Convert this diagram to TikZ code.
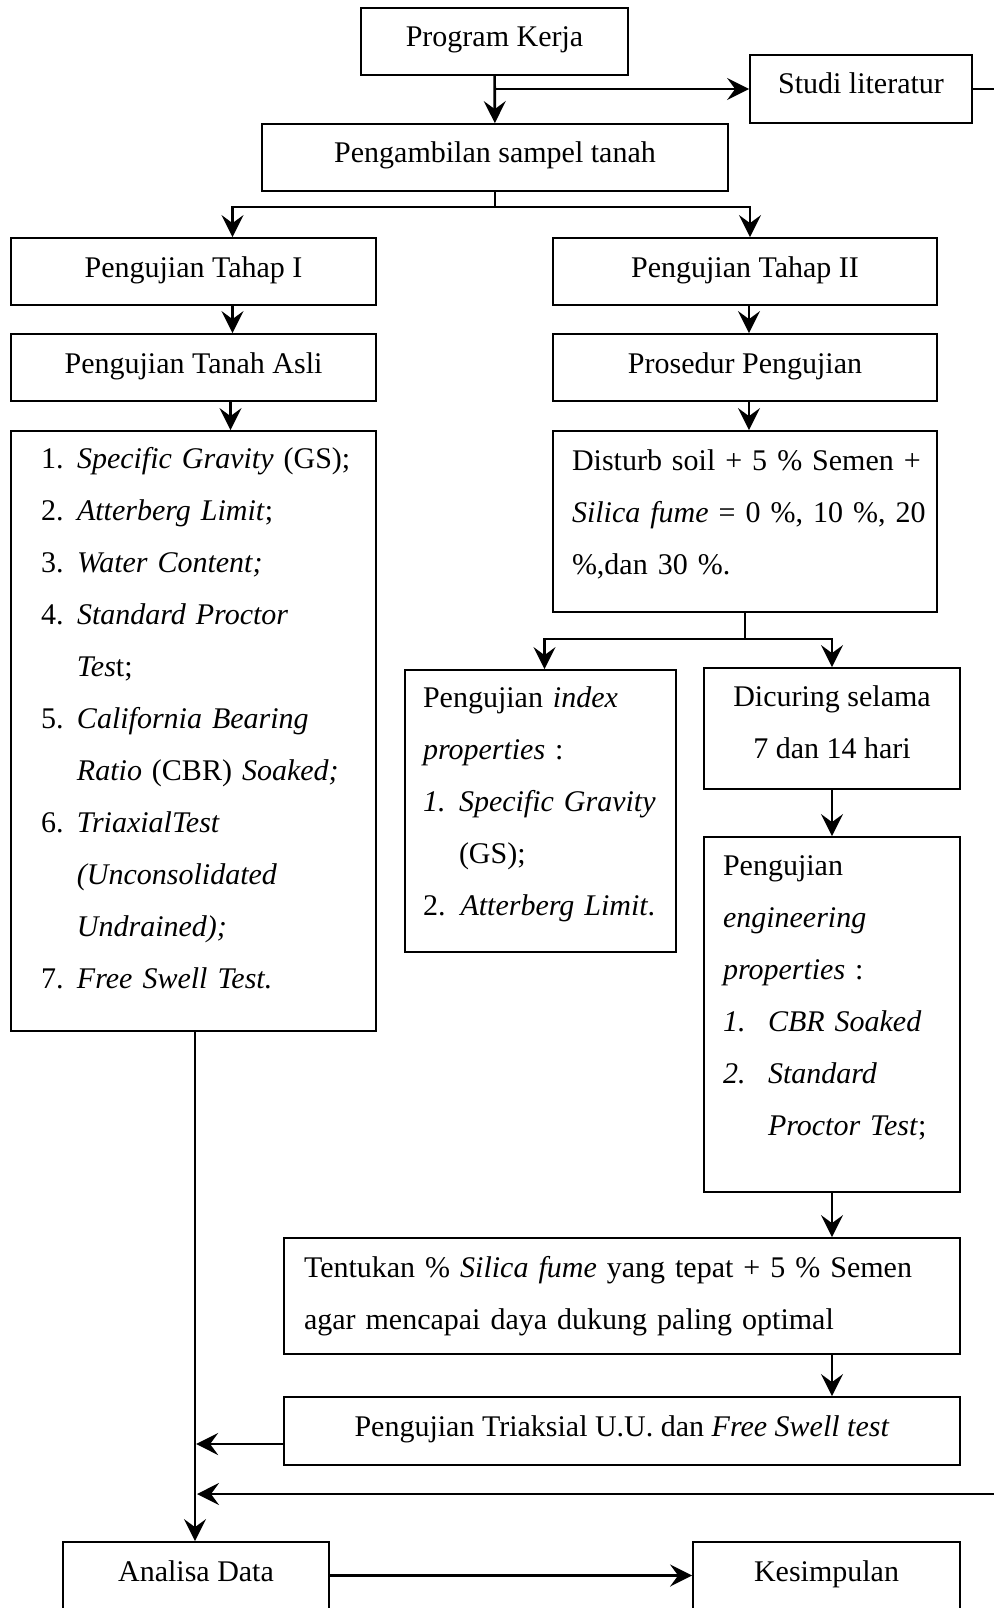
\documentclass[tikz,border=0pt]{standalone}
\usepackage{fontspec}
\setmainfont{Liberation Serif}
\usepackage{xcolor}
\definecolor{Col1}{RGB}{0,0,0}
\usepackage{tikz}
\usetikzlibrary{arrows.meta}
\tikzstyle{Box}=[draw=Col1,line width=1.8pt,inner sep=0pt,
    font=\fontsize{30}{52}\selectfont]
\tikzstyle{OneLine}=[Box,text height=21pt,text depth=10pt]
\tikzstyle{Line}=[draw=Col1,line width=2.6pt]
\tikzstyle{Edge}=[Line,-{Stealth[length=22pt,width=22pt,inset=8pt]}]
\newcommand{\Num}[2][36pt]{\makebox[#1][l]{#2}}
\newcommand{\Ind}[1][36pt]{\hspace*{#1}}
\newcommand{\Low}[1]{\rule[-#1]{0pt}{#1}}

\begin{document}
\begin{tikzpicture}[x=1pt,y=-1pt]
            \useasboundingbox(0,0)rectangle(993,1608);
            \node[OneLine,minimum width=267pt,minimum height=67pt](kerja)
                at(494.5,41.5){Program Kerja};
            \node[OneLine,text depth=12pt,minimum width=222pt,
                minimum height=68pt](studi)at(861,89){Studi literatur};
            \node[OneLine,minimum width=466pt,minimum height=67pt](sampel)
                at(495,157.5){Pengambilan sampel tanah};
            \node[OneLine,minimum width=365pt,minimum height=67pt](tahap1)
                at(193.5,271.5){Pengujian Tahap I};
            \node[OneLine,minimum width=384pt,minimum height=67pt](tahap2)
                at(745,271.5){Pengujian Tahap II};
            \node[OneLine,minimum width=365pt,minimum height=67pt](asli)
                at(193.5,367.5){Pengujian Tanah Asli};
            \node[OneLine,minimum width=384pt,minimum height=67pt](prosedur)
                at(745,367.5){Prosedur Pengujian};
            \node[Box,minimum width=365pt,minimum height=600pt,
                inner xsep=30pt,text width=305pt,align=left](uji)
                at(193.5,731){\mbox{\Num{1.}\textit{Specific Gravity} (GS);}\\
                \Num{2.}\textit{Atterberg Limit};\\
                \Num{3.}\textit{Water Content;}\\
                \Num{4.}\textit{Standard Proctor}\\
                \Ind\textit{Tes}t;\\
                \Num{5.}\textit{California Bearing}\\
                \Ind\textit{Ratio} (CBR) \textit{Soaked;}\\
                \Num{6.}\textit{TriaxialTest}\\
                \Ind\textit{(Unconsolidated}\\
                \Ind\textit{Undrained);}\\
                \Num{7.}\textit{Free Swell Test.}\Low{26pt}};
            \node[Box,minimum width=384pt,minimum height=181pt,
                inner xsep=19pt,text width=346pt,align=left](campuran)
                at(745,521.5){\mbox{Disturb soil + 5 \% Semen +}\\
                \mbox{\textit{Silica fume} = 0 \%, 10 \%, 20}\\
                \%,dan 30 \%.\Low{19pt}};
            \node[Box,minimum width=271pt,minimum height=282pt,
                inner xsep=18pt,text width=235pt,align=left](index)
                at(540.5,811){Pengujian \textit{index}\\
                \textit{properties} :\\
                \mbox{\Num{\textit{1.}}\textit{Specific Gravity}}\\
                \Ind(GS);\\
                2. \textit{Atterberg Limit}.\Low{20pt}};
            \node[Box,minimum width=256pt,minimum height=121pt,
                align=center](curing)
                at(832,728.5){Dicuring selama\\7 dan 14 hari\Low{13pt}};
            \node[Box,minimum width=256pt,minimum height=355pt,
                inner xsep=19pt,text width=218pt,align=left](engineering)
                at(832,1014.5){Pengujian\\
                \textit{engineering}\\
                \textit{properties} :\\
                \Num[45pt]{\textit{1.}}\textit{CBR Soaked}\\
                \Num[45pt]{\textit{2.}}\textit{Standard}\\
                \Ind[45pt]\textit{Proctor Test};\Low{37pt}};
            \node[Box,minimum width=676pt,minimum height=116pt,
                inner xsep=20pt,text width=636pt,align=left](tentukan)
                at(622,1296){\mbox{Tentukan \% \textit{Silica fume} yang tepat + 5 \% Semen}\\
                agar mencapai daya dukung paling optimal};
            \node[OneLine,minimum width=676pt,minimum height=68pt](triaksial)
                at(622,1431){Pengujian Triaksial U.U. dan \textit{Free Swell test}};
            \node[OneLine,minimum width=266pt,minimum height=67pt](analisa)
                at(196,1575.5){Analisa Data};
            \node[OneLine,minimum width=267pt,minimum height=67pt](kesimpulan)
                at(826.5,1575.5){Kesimpulan};
            \coordinate(balik)at(197,1494);
            %
            \draw[Edge](kerja)--(sampel);
            \draw[Edge](kerja|-studi)--(studi);
            \draw[Edge](studi.east)--++(60,0)|-(balik);
            \draw[Edge](sampel.south)--++(0,15)-|([xshift=39pt]tahap1.north);
            \draw[Edge](sampel.south)--++(0,15)-|([xshift=5pt]tahap2.north);
            \draw[Edge]([xshift=39pt]tahap1.south)--([xshift=39pt]asli.north);
            \draw[Edge]([xshift=37pt]asli.south)--([xshift=37pt]uji.north);
            \draw[Edge]([xshift=4pt]tahap2.south)--([xshift=4pt]prosedur.north);
            \draw[Edge]([xshift=4pt]prosedur.south)--([xshift=4pt]campuran.north);
            \draw[Edge](campuran.south)--++(0,26)-|([xshift=4pt]index.north);
            \draw[Edge](campuran.south)--++(0,26)-|(curing.north);
            \draw[Edge](curing)--(engineering);
            \draw[Edge](engineering.south)--(engineering.south|-tentukan.north);
            \draw[Edge](engineering.south|-tentukan.south)
                --(engineering.south|-triaksial.north);
            \draw[Edge]([yshift=-13pt]triaksial.west)--++(-87,0);
            \draw[Edge]([xshift=1.5pt]uji.south)--([xshift=1.5pt]uji.south|-analisa.north);
            \draw[Edge](analisa)--(kesimpulan);
        \end{tikzpicture}
\end{document}
